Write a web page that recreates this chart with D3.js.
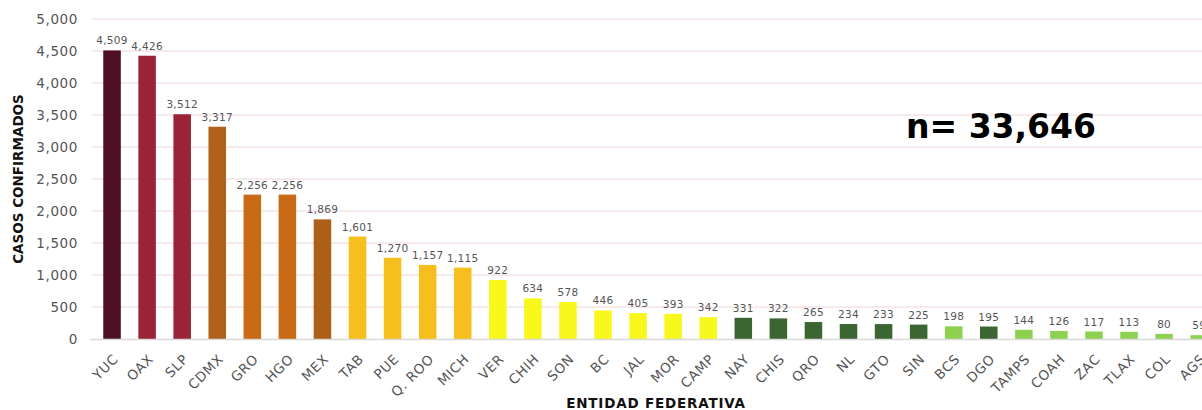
<!DOCTYPE html>
<html>
<head>
<meta charset="utf-8">
<script src="https://cdn.jsdelivr.net/npm/d3@7"></script>
<style>
  html, body { margin: 0; padding: 0; background: #fff; }
  svg { display: block; }
  text { font-family: "DejaVu Sans", sans-serif; }
</style>
</head>
<body>
<svg id="chart" width="1202" height="410"></svg>
<script>
const states = ["YUC","OAX","SLP","CDMX","GRO","HGO","MEX","TAB","PUE","Q. ROO","MICH","VER","CHIH","SON","BC","JAL","MOR","CAMP","NAY","CHIS","QRO","NL","GTO","SIN","BCS","DGO","TAMPS","COAH","ZAC","TLAX","COL","AGS"];
const cases = [4509,4426,3512,3317,2256,2256,1869,1601,1270,1157,1115,922,634,578,446,405,393,342,331,322,265,234,233,225,198,195,144,126,117,113,80,59];
const barColors = ["#4f1026","#9b2337","#9b2337","#b0611a","#c96a17","#c96a17","#ad5f18","#f6bf1d","#f6bf1d","#f6bf1d","#f6bf1d","#f8f81c","#f8f81c","#f8f81c","#f8f81c","#f8f81c","#f8f81c","#f8f81c","#3b6531","#3b6531","#3b6531","#3b6531","#3b6531","#3b6531","#8ed04f","#3b6531","#8ed04f","#8ed04f","#8ed04f","#8ed04f","#8ed04f","#8ed04f"];
const yTicks = [0,500,1000,1500,2000,2500,3000,3500,4000,4500,5000];
const totalLabel = "n= 33,646";
const yTitle = "CASOS CONFIRMADOS";
const xTitle = "ENTIDAD FEDERATIVA";

const svg = d3.select("#chart");
const fmt = d3.format(",");

const x = d3.scaleBand().domain(states).range([94.5, 94.5 + 35.07 * states.length]).paddingInner(0.5).paddingOuter(0.25);
const y = d3.scaleLinear().domain([0, 5000]).range([339, 19]);

// gridlines
svg.append("g").selectAll("line").data(yTicks.filter(d => d > 0)).join("line")
  .attr("x1", 92).attr("x2", 1202)
  .attr("y1", d => y(d)).attr("y2", d => y(d))
  .attr("stroke", "#f0d3da").attr("stroke-width", 1);

// y axis labels
const yAxis = d3.axisLeft(y).tickValues(yTicks).tickFormat(fmt).tickSize(0).tickPadding(0);
const yg = svg.append("g").attr("transform", "translate(78,0)").call(yAxis);
yg.select(".domain").remove();
yg.selectAll("text").attr("font-size", 13.5).attr("fill", "#555").attr("letter-spacing", 0.6).attr("dy", "0.35em");

// bars
svg.append("g").selectAll("rect").data(states).join("rect")
  .attr("x", d => x(d))
  .attr("width", x.bandwidth())
  .attr("y", (d, i) => y(cases[i]))
  .attr("height", (d, i) => y(0) - y(cases[i]))
  .attr("fill", (d, i) => barColors[i]);

// baseline
svg.append("line").attr("x1", 90).attr("x2", 1202).attr("y1", 339.5).attr("y2", 339.5)
  .attr("stroke", "#d9d9d9").attr("stroke-width", 1.5);

// value labels
svg.append("g").selectAll("text").data(states).join("text")
  .attr("x", d => x(d) + x.bandwidth() / 2)
  .attr("y", (d, i) => y(cases[i]) - 6)
  .attr("text-anchor", "middle")
  .attr("font-size", 10.5)
  .attr("letter-spacing", 0.3)
  .attr("fill", "#555")
  .text((d, i) => fmt(cases[i]));

// x axis labels
const xAxis = d3.axisBottom(x).tickSize(0).tickPadding(0);
const xg = svg.append("g").attr("transform", "translate(0,340)").call(xAxis);
xg.select(".domain").remove();
xg.selectAll("text")
  .attr("font-size", 13.5)
  .attr("fill", "#555")
  .attr("letter-spacing", 0.6)
  .attr("text-anchor", "end")
  .attr("dy", 0)
  .attr("transform", "translate(7,20) rotate(-45)");

// titles
svg.append("text")
  .attr("transform", "translate(23,179) rotate(-90)")
  .attr("text-anchor", "middle")
  .attr("font-size", 13.5)
  .attr("font-weight", "bold")
  .attr("fill", "#111")
  .text(yTitle);

svg.append("text")
  .attr("x", 656).attr("y", 408)
  .attr("text-anchor", "middle")
  .attr("font-size", 13.5)
  .attr("font-weight", "bold")
  .attr("letter-spacing", 0.8)
  .attr("fill", "#111")
  .text(xTitle);

svg.append("text")
  .attr("x", 1001).attr("y", 138)
  .attr("text-anchor", "middle")
  .attr("font-size", 33)
  .attr("font-weight", "bold")
  .attr("fill", "#000")
  .text(totalLabel);
</script>
</body>
</html>
